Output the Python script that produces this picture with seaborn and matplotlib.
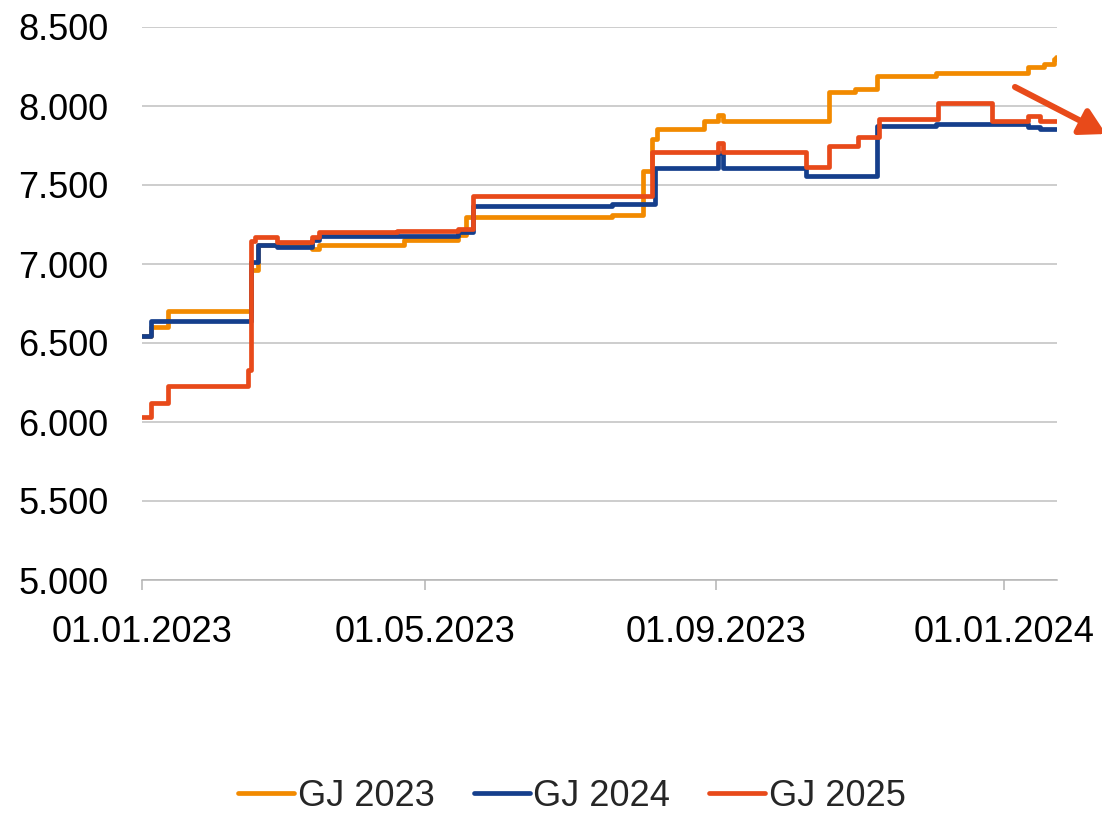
import matplotlib
matplotlib.use("Agg")
import matplotlib.pyplot as plt
import matplotlib.dates as mdates
from matplotlib.lines import Line2D
from matplotlib.ticker import FuncFormatter
import pandas as pd
import seaborn as sns

# Price steps per delivery year: date of change and the level valid from then on
gj2023_dates = ["2023-01-01", "2023-01-05", "2023-01-12", "2023-02-16", "2023-02-19",
                "2023-03-14", "2023-03-17", "2023-04-22", "2023-05-15", "2023-05-18",
                "2023-07-19", "2023-08-01", "2023-08-05", "2023-08-07", "2023-08-27",
                "2023-09-02", "2023-09-04", "2023-10-19", "2023-10-30", "2023-11-08",
                "2023-12-03", "2024-01-11", "2024-01-18", "2024-01-22", "2024-01-23"]
gj2023_values = [6545, 6600, 6700, 6960, 7120,
                 7095, 7120, 7150, 7185, 7300,
                 7310, 7590, 7790, 7855, 7908,
                 7945, 7908, 8087, 8106, 8190,
                 8207, 8249, 8266, 8300, 8310]

gj2024_dates = ["2023-01-01", "2023-01-05", "2023-02-16", "2023-02-19", "2023-02-27",
                "2023-03-14", "2023-03-17", "2023-05-15", "2023-05-21", "2023-07-19",
                "2023-08-06", "2023-09-02", "2023-09-04", "2023-10-09", "2023-11-08",
                "2023-12-03", "2024-01-11", "2024-01-16", "2024-01-23"]
gj2024_values = [6545, 6640, 7015, 7120, 7106,
                 7150, 7180, 7200, 7370, 7380,
                 7610, 7700, 7610, 7559, 7873,
                 7884, 7869, 7852, 7852]

gj2025_dates = ["2023-01-01", "2023-01-05", "2023-01-12", "2023-02-15", "2023-02-16",
                "2023-02-18", "2023-02-27", "2023-03-14", "2023-03-17", "2023-04-19",
                "2023-05-15", "2023-05-21", "2023-08-05", "2023-09-02", "2023-09-04",
                "2023-10-09", "2023-10-19", "2023-10-31", "2023-11-09", "2023-12-04",
                "2023-12-27", "2024-01-11", "2024-01-16", "2024-01-23"]
gj2025_values = [6032, 6122, 6230, 6330, 7147,
                 7173, 7140, 7170, 7204, 7210,
                 7220, 7430, 7710, 7768, 7710,
                 7612, 7747, 7802, 7916, 8017,
                 7902, 7937, 7905, 7905]

series_names = ["GJ 2023", "GJ 2024", "GJ 2025"]
series_colors = ["#F28A00", "#153F8C", "#E84A1A"]
tick_dates = ["2023-01-01", "2023-05-01", "2023-09-01", "2024-01-01"]
y_ticks = [5000, 5500, 6000, 6500, 7000, 7500, 8000, 8500]

frames = []
for name, d, v in zip(series_names,
                      [gj2023_dates, gj2024_dates, gj2025_dates],
                      [gj2023_values, gj2024_values, gj2025_values]):
    frames.append(pd.DataFrame({"Datum": pd.to_datetime(d), "Preis": v, "Jahr": name}))
df = pd.concat(frames, ignore_index=True)

sns.set_style("white")
plt.rcParams["font.family"] = ["Liberation Sans", "DejaVu Sans"]

fig = plt.figure(figsize=(11.02, 8.14), dpi=100)
ax = fig.add_axes([142 / 1102, 1 - 580 / 814, (1057 - 142) / 1102, (580 - 27) / 814])

line_w = 3.4
palette = dict(zip(series_names, series_colors))
sns.lineplot(data=df, x="Datum", y="Preis", hue="Jahr", hue_order=series_names,
             palette=palette, estimator=None, drawstyle="steps-post",
             lw=line_w, legend=False, ax=ax, solid_joinstyle="round",
             solid_capstyle="round")

ax.set_xlim(pd.Timestamp("2023-01-01"), pd.Timestamp("2023-01-01") + pd.Timedelta(days=387.4))
ax.set_ylim(5000, 8500)
ax.set_yticks(y_ticks)
ax.yaxis.set_major_formatter(FuncFormatter(lambda v, p: f"{v:,.0f}".replace(",", ".")))
ax.set_xticks(pd.to_datetime(tick_dates))
ax.xaxis.set_major_formatter(mdates.DateFormatter("%d.%m.%Y"))
ax.set_xlabel("")
ax.set_ylabel("")

ax.grid(axis="y", color="#C0C0C0", linewidth=1.1)
ax.grid(axis="x", visible=False)
ax.set_axisbelow(True)
for side in ["left", "right", "top"]:
    ax.spines[side].set_visible(False)
ax.spines["bottom"].set_color("#B4B4B4")
ax.spines["bottom"].set_linewidth(1.1)

ax.tick_params(axis="y", length=0, pad=24, labelsize=26, labelcolor="black")
ax.tick_params(axis="x", direction="out", length=7, width=1.1, color="#B4B4B4",
               pad=18, labelsize=26, labelcolor="black", bottom=True)

# trend arrow on the right edge
ax.annotate("", xy=(1106, 680), xytext=(1015, 727), xycoords="figure pixels",
            textcoords="figure pixels", annotation_clip=False,
            arrowprops=dict(arrowstyle="-|>,head_length=0.75,head_width=0.42",
                            mutation_scale=20, color="#E84A1A", lw=4.4,
                            shrinkA=0, shrinkB=0))

handles = [Line2D([0], [0], color=c, linewidth=line_w) for c in series_colors]
fig.legend(handles, series_names, loc="center", bbox_to_anchor=(572 / 1102, 1 - 796 / 814),
           ncol=3, frameon=False, fontsize=26, handlelength=1.55, handletextpad=0.11,
           columnspacing=1.08, borderpad=0.0)

fig.savefig("out.png", dpi=100)
